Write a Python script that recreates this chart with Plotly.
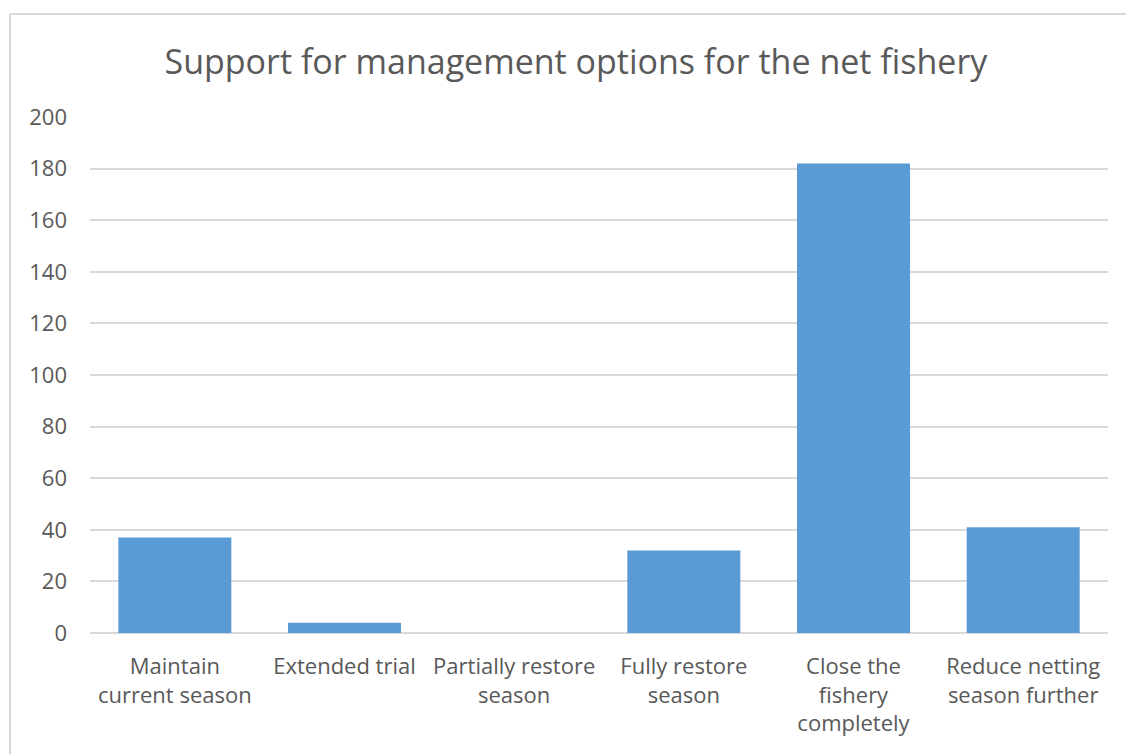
import plotly.graph_objects as go

categories = [
    "Maintain<br>current season",
    "Extended trial",
    "Partially restore<br>season",
    "Fully restore<br>season",
    "Close the<br>fishery<br>completely",
    "Reduce netting<br>season further",
]
support_counts = [37, 4, 0, 32, 182, 41]
y_ticks = [0, 20, 40, 60, 80, 100, 120, 140, 160, 180, 200]

TEXT = "#595959"
GRID = "#D9D9D9"
FONT = "Open Sans"

fig = go.Figure(
    go.Bar(
        x=categories,
        y=support_counts,
        marker=dict(color="#5B9BD5", line=dict(width=0)),
        hoverinfo="x+y",
    )
)

fig.update_layout(
    width=1126,
    height=754,
    margin=dict(l=90, r=18, t=117, b=121),
    paper_bgcolor="white",
    plot_bgcolor="white",
    bargap=0.334,
    showlegend=False,
    title=dict(
        text="Support for management options for the net fishery",
        x=0.5115,
        xanchor="center",
        y=0.918,
        yanchor="middle",
        font=dict(family=FONT, size=34, color=TEXT),
    ),
    font=dict(family=FONT, color=TEXT),
)

fig.update_yaxes(
    range=[0, 200],
    tickvals=y_ticks,
    showgrid=True,
    gridcolor=GRID,
    gridwidth=1.5,
    zeroline=True,
    zerolinecolor=GRID,
    zerolinewidth=1.5,
    showline=False,
    ticks="",
    tickfont=dict(family=FONT, size=22, color=TEXT),
    ticklabelstandoff=22,
    fixedrange=True,
)
fig.update_xaxes(
    showgrid=False,
    showline=False,
    ticks="",
    tickfont=dict(family=FONT, size=22, color=TEXT),
    ticklabelstandoff=18,
    tickangle=0,
    fixedrange=True,
)

# outer chart border (top and left edges visible in the reference)
fig.add_shape(type="line", xref="paper", yref="paper",
              x0=-0.0786, x1=1.02, y0=1.1996, y1=1.1996,
              line=dict(color=GRID, width=2))
fig.add_shape(type="line", xref="paper", yref="paper",
              x0=-0.0786, x1=-0.0786, y0=1.1996, y1=-0.24,
              line=dict(color=GRID, width=2))

fig.write_html(
    "out.html",
    config={"displayModeBar": False},
    post_script="document.body.style.margin='0';document.body.style.overflow='hidden';",
)
